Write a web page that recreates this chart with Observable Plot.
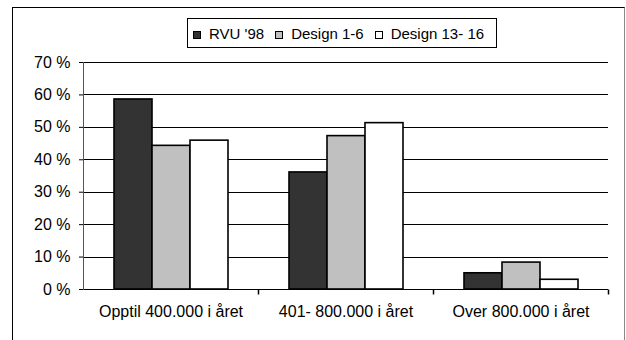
<!DOCTYPE html>
<html><head><meta charset="utf-8">
<script src="https://cdn.jsdelivr.net/npm/d3@7"></script>
<script src="https://cdn.jsdelivr.net/npm/@observablehq/plot@0.6"></script>
<style>
body{margin:0;background:#fff;font-family:"Liberation Sans",Arial,sans-serif;}
#wrap{position:relative;width:626px;height:340px;overflow:hidden;background:#fff;}
#border{position:absolute;left:12px;top:7px;width:613px;height:400px;border:1px solid #000;border-right-color:#888;box-sizing:border-box;}
#chart{position:absolute;left:0;top:0;}
#legend{position:absolute;left:187px;top:18px;width:310px;height:30px;border:1px solid #000;box-sizing:border-box;display:flex;align-items:center;padding-left:5px;font-size:15px;color:#000;background:#fff;}
.item{display:flex;align-items:center;margin-right:11px;}
.sw{width:8px;height:8px;border:1px solid #000;box-sizing:border-box;margin-right:8px;margin-top:3px;}
</style></head>
<body>
<div id="wrap"><div id="border"></div><div id="chart"></div><div id="legend"></div></div>
<script>
const categories = ["Opptil 400.000 i året", "401- 800.000 i året", "Over 800.000 i året"];
const series = ["RVU '98", "Design 1-6", "Design 13- 16"];
const rvu98 = [58.6, 36.1, 5.0];
const design1_6 = [44.3, 47.3, 8.3];
const design13_16 = [45.9, 51.3, 3.0];
const yTicks = [0, 10, 20, 30, 40, 50, 60, 70];
const colors = ["#333333", "#c0c0c0", "#ffffff"];

const valuesBySeries = [rvu98, design1_6, design13_16];
const table = [];
categories.forEach((c, i) => series.forEach((s, j) => table.push({category: c, series: s, value: valuesBySeries[j][i]})));

const tickSymbol = {draw(ctx) { ctx.moveTo(0, 0); ctx.lineTo(0, 5); }};

const plot = Plot.plot({
  width: 626, height: 340,
  marginLeft: 83, marginRight: 18, marginTop: 62, marginBottom: 51,
  style: {fontFamily: '"Liberation Sans", Arial, sans-serif', fontSize: "16px", color: "#000", background: "transparent"},
  fx: {domain: categories, padding: 0, label: null},
  x: {domain: series, paddingInner: 0, paddingOuter: 0.745, axis: null},
  y: {domain: [0, 70], axis: null, label: null},
  color: {domain: series, range: colors},
  marks: [
    Plot.ruleY(yTicks, {stroke: "#000", strokeWidth: 1, shapeRendering: "crispEdges"}),
    Plot.frame({anchor: "left", facetAnchor: "left", stroke: "#555", shapeRendering: "crispEdges"}),
    Plot.barY(table, {fx: "category", x: "series", y: "value", fill: "series", stroke: "#000", strokeWidth: 1.6, inset: 0}),
    Plot.axisY({ticks: yTicks, tickSize: 4, tickPadding: 9, tickFormat: d => `${d} %`, fontSize: 16, label: null}),
    Plot.axisFx({anchor: "bottom", tickSize: 0, tickPadding: 16, fontSize: 16, label: null}),
    Plot.dot([null], {frameAnchor: "bottom-right", symbol: tickSymbol, stroke: "#000", fill: "none"})
  ]
});
document.getElementById("chart").appendChild(plot);

const legend = document.getElementById("legend");
series.forEach((s, j) => {
  const item = document.createElement("div");
  item.className = "item";
  const sw = document.createElement("div");
  sw.className = "sw";
  sw.style.background = colors[j];
  const t = document.createElement("span");
  t.textContent = s;
  item.appendChild(sw); item.appendChild(t);
  legend.appendChild(item);
});
</script>
</body></html>
